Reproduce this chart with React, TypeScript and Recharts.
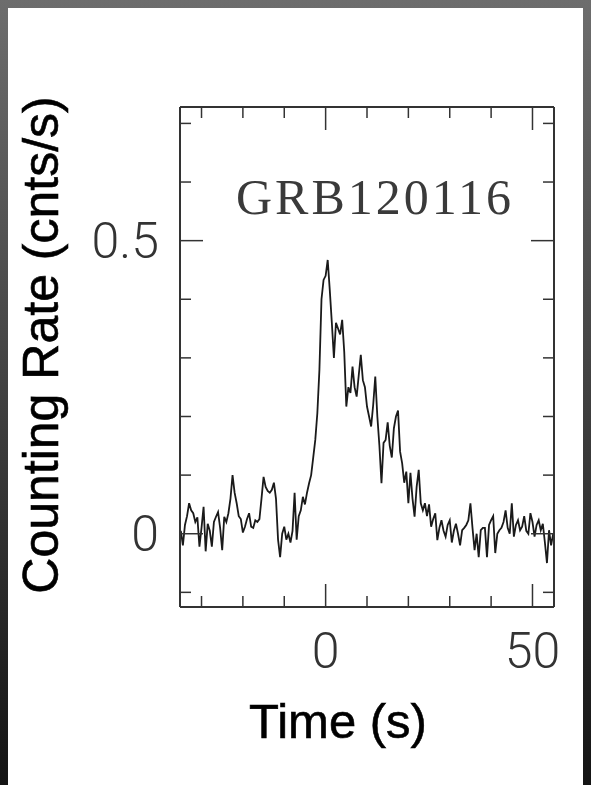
import { Label, Line, LineChart, XAxis, YAxis } from "recharts";

// light curve binned at 0.5 s, starting at t = -35 s
const BIN_START = -35;
const BIN_WIDTH = 0.5;

// -35 s .. -5.5 s
const preBurst = [
  0.005, -0.02, 0.015, 0.03, 0.052, 0.04, 0.035, 0.02, 0.028, -0.022,
  0.01, 0.046, -0.03, 0.017, 0.005, -0.022, 0.02, 0.029, 0.037, 0.01,
  -0.028, 0.029, 0.02, 0.035, 0.06, 0.1, 0.07, 0.052, 0.03, 0.025,
  0.002, 0.012, 0.025, 0.035, 0.012, 0.01, 0.023, 0.02, 0.025, 0.06,
  0.097, 0.08, 0.073, 0.07, 0.075, 0.087, 0.06, -0.01, -0.04, 0.0,
  0.012, -0.01, 0.0, -0.015, 0.005, 0.07, -0.01, 0.03, 0.04, 0.063,
];

// -5 s .. 24.5 s
const mainPulse = [
  0.05, 0.07, 0.086, 0.1, 0.13, 0.16, 0.206, 0.28, 0.4, 0.433,
  0.44, 0.467, 0.416, 0.36, 0.3, 0.36, 0.35, 0.34, 0.365, 0.31,
  0.217, 0.25, 0.24, 0.285, 0.25, 0.234, 0.27, 0.305, 0.262, 0.25,
  0.217, 0.2, 0.183, 0.22, 0.268, 0.2, 0.15, 0.086, 0.155, 0.16,
  0.19, 0.15, 0.13, 0.18, 0.2, 0.21, 0.14, 0.12, 0.087, 0.106,
  0.052, 0.104, 0.06, 0.029, 0.08, 0.109, 0.052, 0.04, 0.052, 0.03,
];

// 25 s .. 55 s
const tail = [
  0.05, 0.012, 0.025, 0.035, -0.011, 0.01, 0.023, 0.005, -0.005, 0.015,
  0.023, -0.015, 0.005, 0.017, 0.0, -0.02, 0.006, 0.01, 0.015, 0.023,
  0.052, 0.01, -0.028, 0.0, -0.04, 0.006, 0.01, 0.01, -0.04, 0.015,
  0.023, 0.03, -0.033, 0.0, 0.006, 0.01, 0.02, 0.04, 0.01, 0.0,
  0.052, -0.005, 0.015, 0.023, 0.006, 0.012, 0.03, 0.005, 0.0, 0.035,
  0.02, -0.005, 0.015, 0.023, 0.006, 0.017, -0.015, -0.05, 0.006, -0.02,
  0.0,
];

const xTicks = [-30, -20, -10, 0, 10, 20, 30, 40, 50];
const yTicks = [-0.1, 0, 0.1, 0.2, 0.3, 0.4, 0.5, 0.6, 0.7];
const xMajor = [0, 50];
const yMajor = [0, 0.5];

const rates = [...preBurst, ...mainPulse, ...tail];
const data = rates.map((rate, i) => ({ t: BIN_START + i * BIN_WIDTH, rate }));

const FRAME = "#333";
const TICK_FONT = { fontFamily: "Roboto, 'Liberation Sans', sans-serif", fontWeight: 300, fontSize: 50, fill: "#333" };
const AXIS_FONT = {
  fontFamily: "'Liberation Sans', Arial, sans-serif",
  fontSize: 49,
  fill: "#000",
  stroke: "#000",
  strokeWidth: 0.6,
};

const MINOR = 11;
const MAJOR = 23;

function BottomTick({ x, y, payload }: any) {
  const major = xMajor.includes(payload.value);
  return (
    <g>
      <line x1={x} x2={x} y1={y} y2={y - (major ? MAJOR : MINOR)} stroke={FRAME} strokeWidth={1.5} />
      {major && (
        <text x={x} y={y + 61} textAnchor="middle" {...TICK_FONT}>
          {payload.value}
        </text>
      )}
    </g>
  );
}

function TopTick({ x, y, payload }: any) {
  const major = xMajor.includes(payload.value);
  return <line x1={x} x2={x} y1={y} y2={y + (major ? MAJOR : MINOR)} stroke={FRAME} strokeWidth={1.5} />;
}

function LeftTick({ x, y, payload }: any) {
  const major = yMajor.includes(payload.value);
  return (
    <g>
      <line x1={x} x2={x + (major ? MAJOR : MINOR)} y1={y} y2={y} stroke={FRAME} strokeWidth={1.5} />
      {major && (
        <text x={x - 21} y={y + 17} textAnchor="end" {...TICK_FONT}>
          {payload.value}
        </text>
      )}
    </g>
  );
}

function RightTick({ x, y, payload }: any) {
  const major = yMajor.includes(payload.value);
  return <line x1={x} x2={x - (major ? MAJOR : MINOR)} y1={y} y2={y} stroke={FRAME} strokeWidth={1.5} />;
}

export default function App() {
  return (
    <>
      <div
        style={{
          position: "fixed",
          left: 0,
          top: 0,
          width: 591,
          height: 785,
          background: "linear-gradient(to bottom, #6d6d6d, #141414)",
        }}
      />
      <div style={{ position: "relative", width: 583, height: 777, background: "#fff" }}>
        <LineChart width={583} height={777} data={data} margin={{ top: 98, right: 36, bottom: 0, left: 0 }}>
          <XAxis
            xAxisId="bottom"
            dataKey="t"
            type="number"
            domain={[-35.2, 55.2]}
            allowDataOverflow
            ticks={xTicks}
            interval={0}
            height={178}
            tickSize={0}
            tickMargin={0}
            tickLine={false}
            axisLine={{ stroke: FRAME, strokeWidth: 2 }}
            tick={(p: any) => <BottomTick {...p} />}
          >
            <Label
              content={({ viewBox }: any) => (
                <text x={viewBox.x + viewBox.width / 2 - 29} y={viewBox.y + 131} textAnchor="middle" {...AXIS_FONT}>
                  Time (s)
                </text>
              )}
            />
          </XAxis>
          <XAxis
            xAxisId="top"
            dataKey="t"
            orientation="top"
            type="number"
            domain={[-35.2, 55.2]}
            allowDataOverflow
            ticks={xTicks}
            interval={0}
            height={1}
            tickSize={0}
            tickMargin={0}
            tickLine={false}
            axisLine={{ stroke: FRAME, strokeWidth: 2 }}
            tick={(p: any) => <TopTick {...p} />}
          />
          <YAxis
            yAxisId="left"
            type="number"
            domain={[-0.125, 0.728]}
            allowDataOverflow
            ticks={yTicks}
            interval={0}
            width={172}
            tickSize={0}
            tickMargin={0}
            tickLine={false}
            axisLine={{ stroke: FRAME, strokeWidth: 2 }}
            tick={(p: any) => <LeftTick {...p} />}
          >
            <Label
              content={({ viewBox }: any) => {
                const cx = viewBox.x + 50;
                const cy = viewBox.y + viewBox.height / 2 - 12;
                return (
                  <text x={cx} y={cy} transform={`rotate(-90 ${cx} ${cy})`} textAnchor="middle" {...AXIS_FONT} fontSize={50}>
                    Counting Rate (cnts/s)
                  </text>
                );
              }}
            />
          </YAxis>
          <YAxis
            yAxisId="right"
            orientation="right"
            type="number"
            domain={[-0.125, 0.728]}
            allowDataOverflow
            ticks={yTicks}
            interval={0}
            width={1}
            tickSize={0}
            tickMargin={0}
            tickLine={false}
            axisLine={{ stroke: FRAME, strokeWidth: 2 }}
            tick={(p: any) => <RightTick {...p} />}
          />
          <text
            x={367}
            y={206}
            textAnchor="middle"
            fontFamily="'Liberation Serif', 'DejaVu Serif', serif"
            fontSize={50}
            letterSpacing={3}
            fill="#3a3a3a"
          >
            GRB120116
          </text>
          <Line
            xAxisId="bottom"
            yAxisId="left"
            dataKey="rate"
            type="linear"
            stroke="#1a1a1a"
            strokeWidth={1.8}
            dot={false}
            isAnimationActive={false}
          />
        </LineChart>
      </div>
    </>
  );
}
